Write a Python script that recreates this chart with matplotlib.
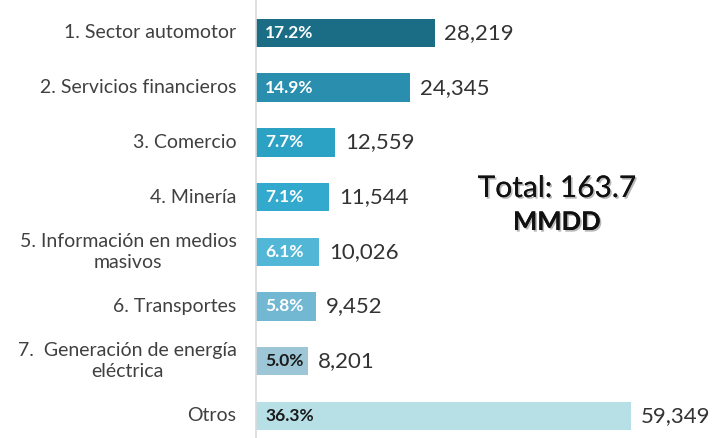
import matplotlib
matplotlib.use("Agg")
import matplotlib.pyplot as plt
import matplotlib.patheffects as pe

categories = ["1. Sector automotor", "2. Servicios financieros", "3. Comercio",
              "4. Minería", "5. Información en medios\nmasivos", "6. Transportes",
              "7.  Generación de energía\neléctrica", "Otros"]
values = [28219, 24345, 12559, 11544, 10026, 9452, 8201, 59349]
pct_labels = ["17.2%", "14.9%", "7.7%", "7.1%", "6.1%", "5.8%", "5.0%", "36.3%"]
value_labels = ["28,219", "24,345", "12,559", "11,544", "10,026", "9,452", "8,201", "59,349"]
colors = ["#1b6d86", "#2a8fae", "#2ba1c4", "#33a9cd", "#52b6d7", "#72b8d2", "#9dc6d6", "#b6dfe6"]
pct_colors = ["white", "white", "white", "white", "white", "white", "#1a1a1a", "#1a1a1a"]

plt.rcParams['font.family'] = ['Lato', 'DejaVu Sans']

fig = plt.figure(figsize=(7.15, 4.38), dpi=100)
ax = fig.add_axes([256/715, 0, 1 - 256/715 - 0.02, 1])

y = list(range(len(categories)))
ax.barh(y, values, height=0.52, color=colors)
ax.set_ylim(7.404, -0.603)
ax.set_xlim(0, 70300)

for i, v in enumerate(values):
    ax.annotate(pct_labels[i], (0, i), xytext=(6.5, 0), textcoords="offset points",
                ha="left", va="center", fontsize=12.5, fontweight="bold", color=pct_colors[i])
    ax.annotate(value_labels[i], (v, i), xytext=(7, 0), textcoords="offset points",
                ha="left", va="center", fontsize=16, color="#333333")
    ax.annotate(categories[i], (0, i), xytext=(-14, 0), textcoords="offset points",
                ha="right", va="center", multialignment="center", fontsize=14,
                color="#404040", linespacing=1.25, annotation_clip=False)

ax.set_yticks([])
ax.set_xticks([])
for s in ["top", "right", "bottom"]:
    ax.spines[s].set_visible(False)
ax.spines["left"].set_color("#d9d9d9")
ax.spines["left"].set_linewidth(1.2)

shadow = [pe.withSimplePatchShadow(offset=(1.2, -1.2), shadow_rgbFace="#888888", alpha=0.6), pe.Normal()]
fig.text(557/715, 1 - 188/438, "Total: 163.7", fontsize=21.5, color="#111111",
         ha="center", va="center", path_effects=shadow)
fig.text(557/715, 1 - 222/438, "MMDD", fontsize=18.5, fontweight="bold", color="#111111",
         ha="center", va="center", path_effects=shadow)

fig.savefig("out.png", dpi=100)
